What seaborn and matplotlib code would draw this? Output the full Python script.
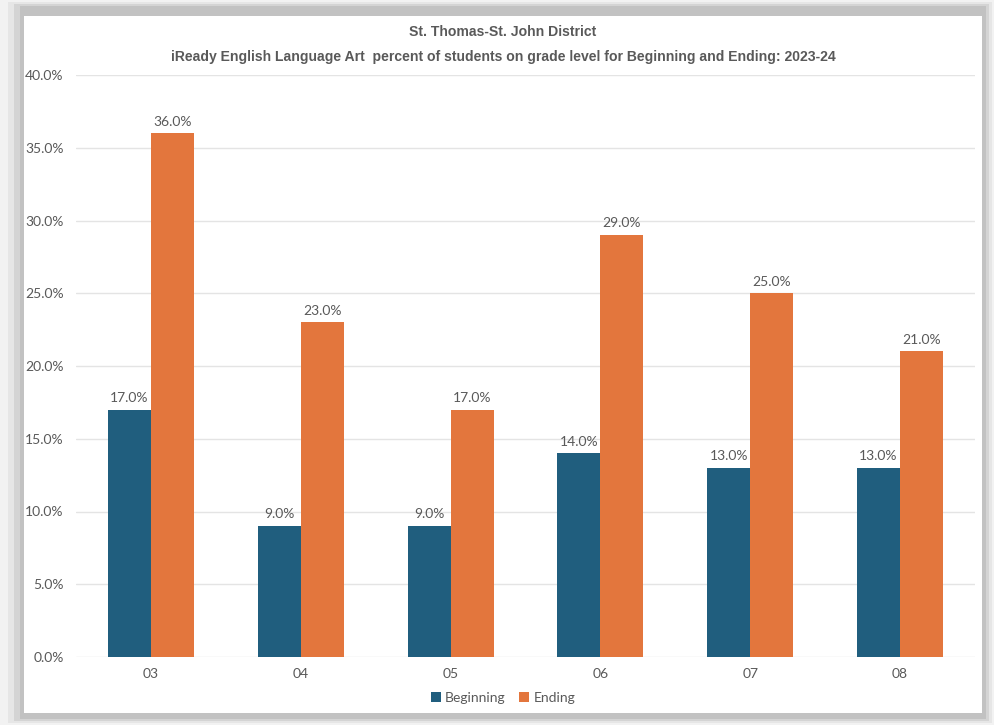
import matplotlib
matplotlib.use("Agg")
import matplotlib.pyplot as plt
from matplotlib.patches import Rectangle, Patch
import seaborn as sns
import pandas as pd

grades = ["03", "04", "05", "06", "07", "08"]
beginning = [17.0, 9.0, 9.0, 14.0, 13.0, 13.0]
ending = [36.0, 23.0, 17.0, 29.0, 25.0, 21.0]
series_names = ["Beginning", "Ending"]
colors = ["#205E7E", "#E3763D"]
yticks = [0, 5, 10, 15, 20, 25, 30, 35, 40]
title_lines = ["St. Thomas-St. John District",
               "iReady English Language Art  percent of students on grade level for Beginning and Ending: 2023-24"]

df = pd.DataFrame({
    "grade": grades * 2,
    "value": beginning + ending,
    "series": [series_names[0]] * len(grades) + [series_names[1]] * len(grades),
})

sns.set_theme(style="white")
plt.rcParams["font.family"] = ["Lato", "DejaVu Sans"]
TXT = "#595959"

W, H = 994, 725
fig = plt.figure(figsize=(W / 100, H / 100), dpi=100)
fig.patch.set_facecolor("#f2f2f2")

def px_rect(x0, y0, x1, y1, color, z):
    fig.patches.append(Rectangle((x0 / W, 1 - y1 / H), (x1 - x0) / W, (y1 - y0) / H,
                                 transform=fig.transFigure, facecolor=color,
                                 edgecolor="none", zorder=z))

px_rect(8, 2, 992, 723, "#e6e6e6", -4)
px_rect(14, 4, 989, 721, "#d4d4d4", -3)
px_rect(20, 6, 986, 719, "#c2c2c2", -2)
px_rect(24, 16, 982, 713, "white", -1)

ax = fig.add_axes([76 / W, (H - 657) / H, (975 - 76) / W, (657 - 75) / H])
ax.set_facecolor("none")

sns.barplot(data=df, x="grade", y="value", hue="series", palette=colors,
            width=0.575, saturation=1, gap=0, ax=ax, legend=False, zorder=3,
            linewidth=0, edgecolor="none")

ax.set_ylim(0, 40)
ax.set_xlim(-0.5, len(grades) - 0.5)
ax.set_yticks(yticks)
ax.set_yticklabels([f"{t:.1f}%" for t in yticks], color=TXT, fontsize=10)
ax.tick_params(axis="y", length=0, pad=9)
ax.tick_params(axis="x", length=0, pad=8, labelsize=10, labelcolor=TXT)
ax.set_xlabel("")
ax.set_ylabel("")
ax.grid(axis="y", color="#e4e4e4", linewidth=1, zorder=0)
for s in ax.spines.values():
    s.set_visible(False)

for cont in ax.containers:
    ax.bar_label(cont, labels=[f"{v:.1f}%" for v in cont.datavalues],
                 padding=4, color=TXT, fontsize=10)

fig.text(503 / W, 1 - 32 / H, title_lines[0], ha="center", va="center",
         fontsize=10.1, fontweight="bold", color=TXT, family="Liberation Sans")
fig.text(503 / W, 1 - 57 / H, title_lines[1], ha="center", va="center",
         fontsize=10.1, fontweight="bold", color=TXT, family="Liberation Sans")

handles = [Patch(facecolor=c, edgecolor="none") for c in colors]
fig.legend(handles, series_names, loc="center", bbox_to_anchor=(503 / W, 1 - 698 / H),
           ncol=2, frameon=False, fontsize=10, labelcolor=TXT,
           handlelength=0.7, handleheight=0.7, handletextpad=0.3, columnspacing=1.0)

fig.savefig("out.png", dpi=100, facecolor=fig.get_facecolor())
